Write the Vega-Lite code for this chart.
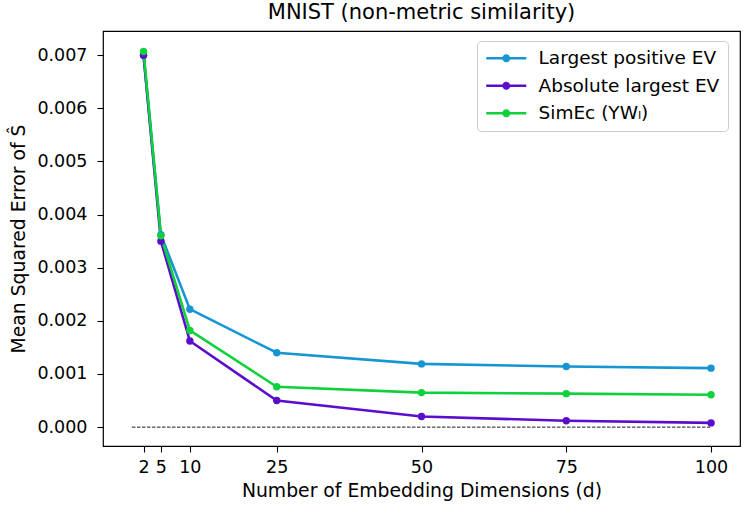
{
  "$schema": "https://vega.github.io/schema/vega-lite/v6.json",
  "width": 637,
  "height": 415,
  "autosize": {"type": "none"},
  "padding": {"left": 103, "top": 31, "right": 8, "bottom": 59},
  "background": "white",
  "config": {
    "font": "DejaVu Sans",
    "view": {"stroke": "black", "strokeWidth": 1.2},
    "axis": {"domain": false, "grid": false, "tickColor": "black", "tickWidth": 1.1, "tickSize": 6, "labelColor": "black", "labelFontSize": 17.5, "titleFontSize": 18.8, "titleColor": "black", "titleFontWeight": "normal", "labelFont": "DejaVu Sans", "titleFont": "DejaVu Sans"}
  },
  "title": {"text": "MNIST (non-metric similarity)", "fontSize": 21, "fontWeight": "normal", "font": "DejaVu Sans", "color": "black", "offset": 8, "anchor": "middle"},
  "datasets": {
    "series": [
      {"d": 2, "mse": 0.00700, "method": "Largest positive EV"},
      {"d": 5, "mse": 0.00362, "method": "Largest positive EV"},
      {"d": 10, "mse": 0.00222, "method": "Largest positive EV"},
      {"d": 25, "mse": 0.00140, "method": "Largest positive EV"},
      {"d": 50, "mse": 0.00119, "method": "Largest positive EV"},
      {"d": 75, "mse": 0.00114, "method": "Largest positive EV"},
      {"d": 100, "mse": 0.00111, "method": "Largest positive EV"},
      {"d": 2, "mse": 0.00700, "method": "Absolute largest EV"},
      {"d": 5, "mse": 0.00350, "method": "Absolute largest EV"},
      {"d": 10, "mse": 0.00162, "method": "Absolute largest EV"},
      {"d": 25, "mse": 0.00050, "method": "Absolute largest EV"},
      {"d": 50, "mse": 0.00020, "method": "Absolute largest EV"},
      {"d": 75, "mse": 0.00012, "method": "Absolute largest EV"},
      {"d": 100, "mse": 0.00008, "method": "Absolute largest EV"},
      {"d": 2, "mse": 0.00707, "method": "SimEc (YWₗ)"},
      {"d": 5, "mse": 0.00360, "method": "SimEc (YWₗ)"},
      {"d": 10, "mse": 0.00182, "method": "SimEc (YWₗ)"},
      {"d": 25, "mse": 0.00076, "method": "SimEc (YWₗ)"},
      {"d": 50, "mse": 0.00065, "method": "SimEc (YWₗ)"},
      {"d": 75, "mse": 0.00063, "method": "SimEc (YWₗ)"},
      {"d": 100, "mse": 0.00061, "method": "SimEc (YWₗ)"}
    ],
    "baseline": [
      {"d": 0, "mse": 0},
      {"d": 100, "mse": 0}
    ]
  },
  "layer": [
    {
      "data": {"name": "baseline"},
      "mark": {"type": "line", "color": "black", "strokeWidth": 0.9, "strokeDash": [3.5, 1.5]},
      "encoding": {
        "x": {"field": "d", "type": "quantitative", "scale": {"domain": [-5, 105], "nice": false, "zero": false}},
        "y": {"field": "mse", "type": "quantitative", "scale": {"domain": [-0.000355, 0.007455], "nice": false, "zero": false}}
      }
    },
    {
      "data": {"name": "series"},
      "mark": {"type": "line", "strokeWidth": 2.6, "point": {"filled": true, "size": 55, "opacity": 1}},
      "encoding": {
        "x": {"field": "d", "type": "quantitative", "scale": {"domain": [-5, 105], "nice": false, "zero": false},
              "axis": {"values": [2, 5, 10, 25, 50, 75, 100], "title": "Number of Embedding Dimensions (d)", "labelPadding": 6, "titlePadding": 6, "labelFlush": false}},
        "y": {"field": "mse", "type": "quantitative", "scale": {"domain": [-0.000355, 0.007455], "nice": false, "zero": false},
              "axis": {"values": [0, 0.001, 0.002, 0.003, 0.004, 0.005, 0.006, 0.007], "format": ".3f", "title": "Mean Squared Error of Ŝ", "labelPadding": 10, "titlePadding": 8}},
        "color": {
          "field": "method", "type": "nominal",
          "scale": {"domain": ["Largest positive EV", "Absolute largest EV", "SimEc (YWₗ)"], "range": ["#1596d3", "#5a0ecc", "#10d03c"]},
          "legend": {
            "title": null,
            "orient": "none",
            "legendX": 374,
            "legendY": 10,
            "padding": 8,
            "strokeColor": "#cccccc",
            "fillColor": "white",
            "cornerRadius": 4,
            "labelFontSize": 18.5,
            "labelFont": "DejaVu Sans",
            "labelColor": "black",
            "labelLimit": 400,
            "labelOffset": 35,
            "rowPadding": 8.5,
            "symbolSize": 256,
            "symbolStrokeWidth": 0,
            "symbolType": "M-1,-0.16L4,-0.16L4,0.16L-1,0.16Z M2,0A0.5,0.5,0,1,1,1,0A0.5,0.5,0,1,1,2,0Z",
            "encode": {"symbols": {"update": {"fill": {"scale": "color", "field": "value"}, "fillOpacity": {"value": 1}, "strokeWidth": {"value": 0}}}}
          }
        }
      }
    }
  ]
}
